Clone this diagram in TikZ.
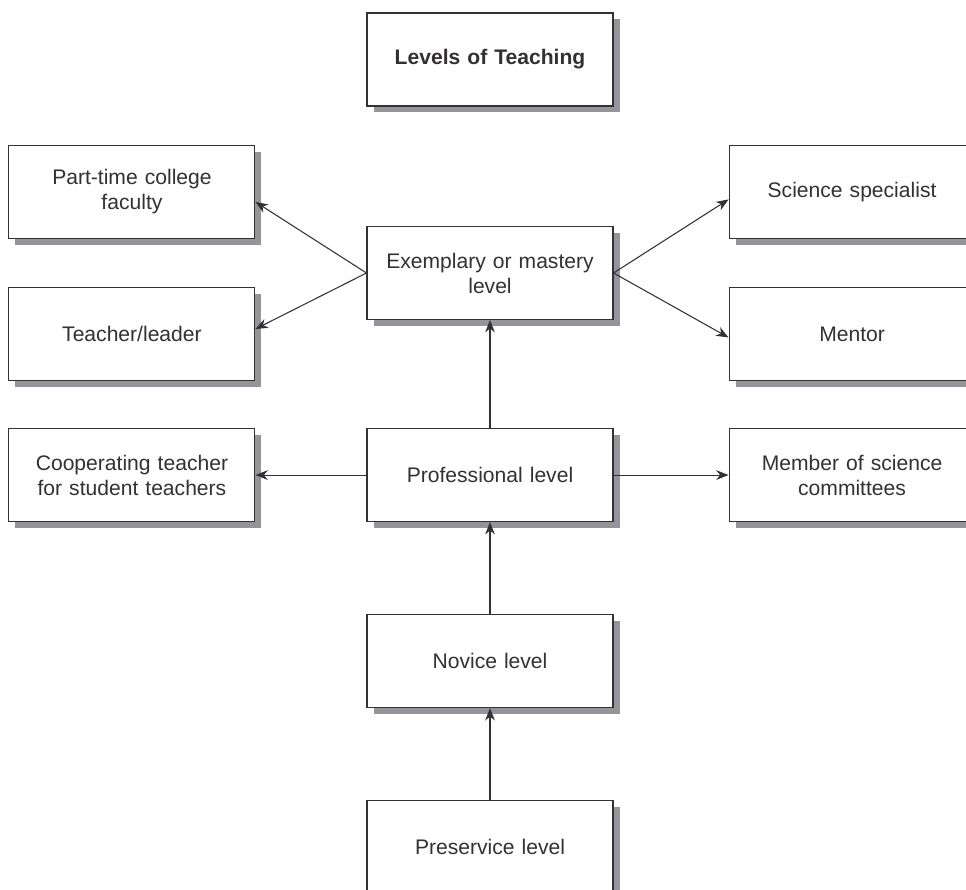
\documentclass[tikz,border=0pt]{standalone}
\usepackage{fontspec}
\setmainfont{Liberation Sans}
\usepackage{xcolor}
\usetikzlibrary{arrows.meta, positioning, shadows}
\definecolor{linegray}{HTML}{333132}
\definecolor{shadowgray}{HTML}{939598}

\begin{document}
\begin{tikzpicture}[
    levelbox/.style={rectangle, draw=linegray, fill=white, line width=0.6pt, minimum width=4.92cm, minimum height=1.86cm, text width=4.6cm, align=center, text=linegray, font=\fontsize{12}{14.2}\selectfont, drop shadow={shadow xshift=0.13cm, shadow yshift=-0.13cm, fill=shadowgray, opacity=1}},
    arrow/.style={-{Stealth[length=7pt, width=5.5pt, inset=2.2pt]}, line width=0.6pt, linegray},
    node distance=1.86cm
]
    \useasboundingbox (0,0) rectangle (19.32,17.78);

    % Title
    \node[levelbox, font=\bfseries\fontsize{12}{14.2}\selectfont] (title) at (9.80,16.59) {Levels of Teaching};

    % Main column of levels
    \node[levelbox] (exemplary) at (9.80,12.32) {Exemplary or mastery\\level};
    \node[levelbox, below=2.16cm of exemplary] (professional) {Professional level};
    \node[levelbox, below=1.84cm of professional] (novice) {Novice level};
    \node[levelbox, below=1.84cm of novice] (preservice) {Preservice level};

    % Roles on the left
    \node[levelbox, left=2.22cm of professional] (cooperating) {Cooperating teacher\\for student teachers};
    \node[levelbox, above=0.94cm of cooperating] (teacher) {Teacher/leader};
    \node[levelbox, above=0.96cm of teacher] (parttime) {Part-time college\\faculty};

    % Roles on the right
    \node[levelbox, right=2.3cm of professional] (member) {Member of science\\committees};
    \node[levelbox, above=0.94cm of member] (mentor) {Mentor};
    \node[levelbox, above=0.96cm of mentor] (specialist) {Science specialist};

    % Upward path
    \draw[arrow] (preservice) -- (novice);
    \draw[arrow] (novice) -- (professional);
    \draw[arrow] (professional) -- (exemplary);

    % Branches
    \draw[arrow] (professional) -- (cooperating);
    \draw[arrow] (professional) -- (member);
    \draw[arrow] (exemplary.west) -- ([yshift=-0.2cm]parttime.east);
    \draw[arrow] (exemplary.west) -- ([yshift=0.1cm]teacher.east);
    \draw[arrow] (exemplary.east) -- ([yshift=-0.15cm]specialist.west);
    \draw[arrow] (exemplary.east) -- ([yshift=-0.07cm]mentor.west);

\end{tikzpicture}
\end{document}
